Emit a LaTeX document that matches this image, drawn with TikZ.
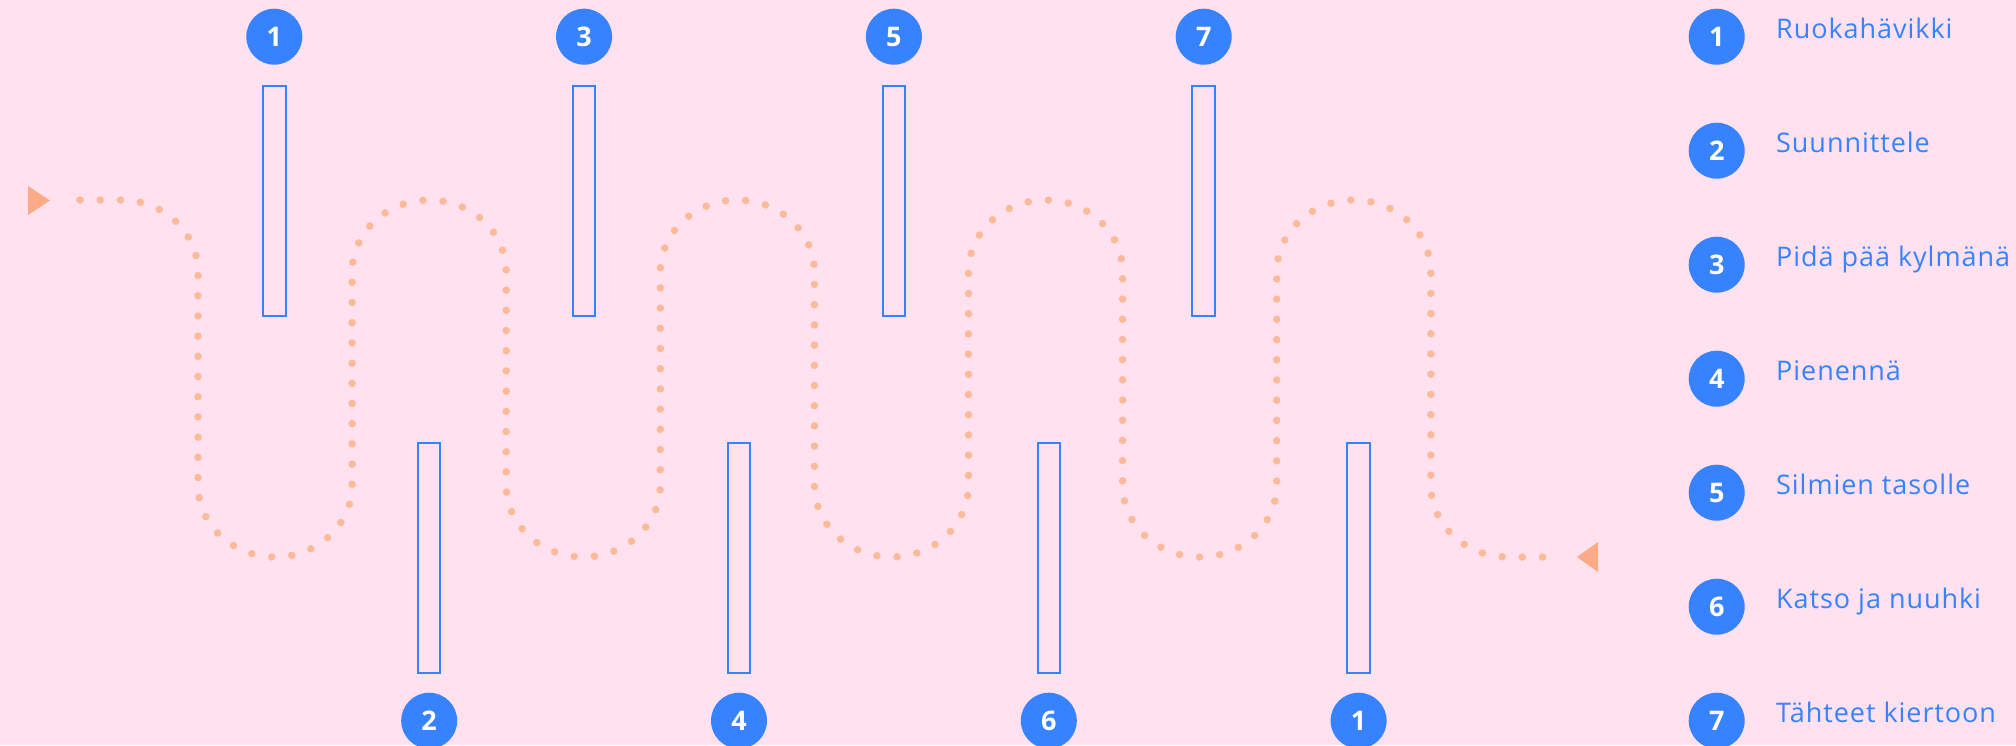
\documentclass[tikz,border=0pt]{standalone}
\usepackage{fontspec}
\setmainfont{Open Sans}
\newfontfamily\legfont[LetterSpace=3.5]{Open Sans}
\definecolor{bg}{HTML}{FFE1F0}
\definecolor{mainblue}{HTML}{3783FF}
\definecolor{dotc}{HTML}{FDBA98}
\definecolor{tric}{HTML}{FBAC86}
\begin{document}
\begin{tikzpicture}[x=1pt,y=-1pt,
  numcirc/.style={circle,fill=mainblue,minimum size=56pt,inner sep=0pt,text=white,font=\fontsize{27}{27}\selectfont\bfseries},
  barbox/.style={draw=mainblue,line width=2pt,minimum width=22.5pt,minimum height=230pt,inner sep=0pt},
  legtext/.style={anchor=base west,inner sep=0pt,text=mainblue,font=\legfont\fontsize{27}{27}\selectfont},
  dotline/.style={dotc,line width=7.5pt,line cap=round,dash pattern=on 0pt off 20.2pt},
  tri/.style={fill=tric}]
\fill[bg] (0,0) rectangle (2016,745);
\useasboundingbox (0,0) rectangle (2016,745);
% dotted wave
\coordinate (start) at (80,200);
\coordinate (finish) at (1547,557);
\draw[dotline] (start) -- (121,200) .. controls (163.5,200) and (198,232.2) .. (198,272)
  \foreach \k in {0,2,4,6} {
    -- ({198+154.1*\k},485)
    .. controls ({198+154.1*\k},524.8) and ({198+154.1*\k+34.5},557) .. ({198+154.1*\k+77.05},557)
    .. controls ({198+154.1*\k+119.6},557) and ({198+154.1*(\k+1)},524.8) .. ({198+154.1*(\k+1)},485)
    -- ({198+154.1*(\k+1)},272)
    .. controls ({198+154.1*(\k+1)},232.2) and ({198+154.1*(\k+1)+34.5},200) .. ({198+154.1*(\k+1)+77.05},200)
    .. controls ({198+154.1*(\k+1)+119.6},200) and ({198+154.1*(\k+2)},232.2) .. ({198+154.1*(\k+2)},272)
  }
  -- (1430.8,485) .. controls (1430.8,524.8) and (1465.3,557) .. (1507.85,557) -- (finish);
% arrow triangles
\fill[tri] (28,186) -- (50,200.5) -- (28,215) -- cycle;
\fill[tri] (1598,542) -- (1577,557) -- (1598,572) -- cycle;
% bars and numbers
\foreach \j/\n in {0/1,2/3,4/5,6/7} {
  \node[barbox] (bar\j) at ({274.3+154.9*\j},201) {};
  \node[numcirc] (num\j) at ({274.3+154.9*\j},36.7) {\n};
}
\foreach \j/\n in {1/2,3/4,5/6,7/1} {
  \node[barbox] (bar\j) at ({274.3+154.9*\j},558) {};
  \node[numcirc] (num\j) at ({274.3+154.9*\j},720.7) {\n};
}
% legend
\foreach \i/\t in {1/Ruokahävikki,2/Suunnittele,3/Pidä pää kylmänä,4/Pienennä,5/Silmien tasolle,6/Katso ja nuuhki,7/Tähteet kiertoon} {
  \node[numcirc] (leg\i) at (1716.7,{36.7+114*(\i-1)}) {\i};
  \node[legtext] (legt\i) at (1776,{38.5+114*(\i-1)}) {\t};
}
\end{tikzpicture}
\end{document}
